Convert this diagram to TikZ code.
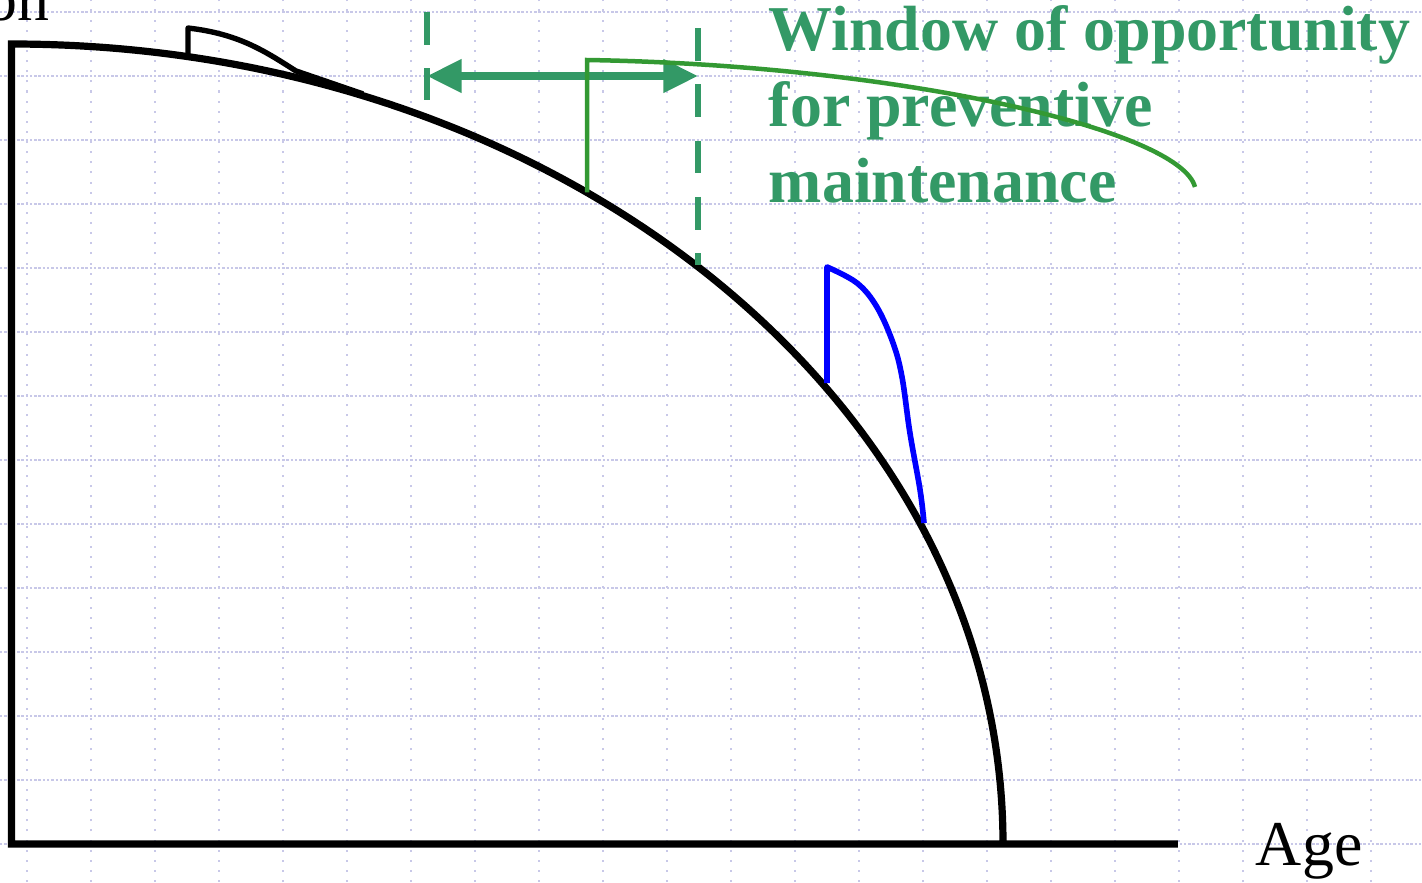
\documentclass[tikz,border=0pt]{standalone}
\usepackage{fontspec}
\setmainfont{Liberation Serif}
\definecolor{wingreen}{HTML}{339966}
\definecolor{callgreen}{HTML}{339933}
\definecolor{gridlav}{RGB}{200,200,232}
\usetikzlibrary{arrows.meta}

\begin{document}
\begin{tikzpicture}[
    hgrid/.style={gridlav, line width=0.45pt, dash pattern=on 0.55pt off 0.4pt},
    vgrid/.style={gridlav, line width=0.45pt, dash pattern=on 0.45pt off 1.8pt},
    axis/.style={black, line width=1.6pt},
    bump/.style={black, line width=1.2pt, line join=round},
    winline/.style={wingreen, line width=1.5pt, dash pattern=on 0.255cm off 0.185cm},
    winarr/.style={{Triangle[length=0.27cm, width=0.25cm]}-{Triangle[length=0.27cm, width=0.25cm]},
                   wingreen, line width=1.6pt},
    callout/.style={callgreen, line width=1pt},
    pm/.style={blue, line width=1.25pt, line join=round},
    lbl/.style={inner sep=0pt, font=\fontsize{14.2}{16.9}\selectfont},
  ]
    \useasboundingbox (-0.2109,-0.2969) rectangle (10.8984,6.5938);
    % grid
    \foreach \y in {0,0.5,...,6.5}
      \draw[hgrid] (-0.2109,\y) -- (10.8984,\y);
    \foreach \x in {0,0.5,...,10.5}
      \draw[vgrid] (\x,-0.2969) -- (\x,6.5938);

    % axes and condition curve
    \coordinate (origin) at (-0.121,0);
    \coordinate (top) at (-0.121,6.25);
    \coordinate (xend) at (8.992,0);
    \draw[axis] (xend) -- (origin) -- (top)
      arc[start angle=90, end angle=0, x radius=7.746cm, y radius=6.25cm] coordinate (fail);
    \draw[bump] (1.258,6.15) -- (1.258,6.375) .. controls (1.65,6.33) and (1.85,6.2) .. (2.1,6.04) -- (2.625,5.86);

    % window of opportunity
    \coordinate (winL) at (3.125,6.0);
    \coordinate (winR) at (5.242,6.0);
    \draw[winline] (3.125,6.5) -- (3.125,5.8125);
    \draw[winline] (5.242,6.375) -- (5.242,4.52);
    \draw[winarr] (winL) -- (winR);

    \node[lbl, anchor=base west, text=wingreen, align=left, font=\fontsize{14.2}{17}\selectfont\bfseries]
      (window) at (5.789,5.008) {Window of opportunity\\for preventive\\maintenance};
    \draw[callout] (4.375,5.09) -- (4.375,6.125)
      .. controls (6.82,6.086) and (9.008,5.578) .. (9.125,5.133);

    \draw[pm] (6.25,3.6) -- plot[smooth, tension=0.6] coordinates {(6.25,4.508) (6.484,4.383)
      (6.64,4.195) (6.766,3.914) (6.836,3.648) (6.898,3.211) (6.977,2.766) (7.008,2.508)};

    \node[lbl, anchor=base west] (age) at (9.594,-0.17) {Age};
    \node[lbl, anchor=base east] (ylbl) at (0.18,6.4375) {on};
  \end{tikzpicture}
\end{document}
